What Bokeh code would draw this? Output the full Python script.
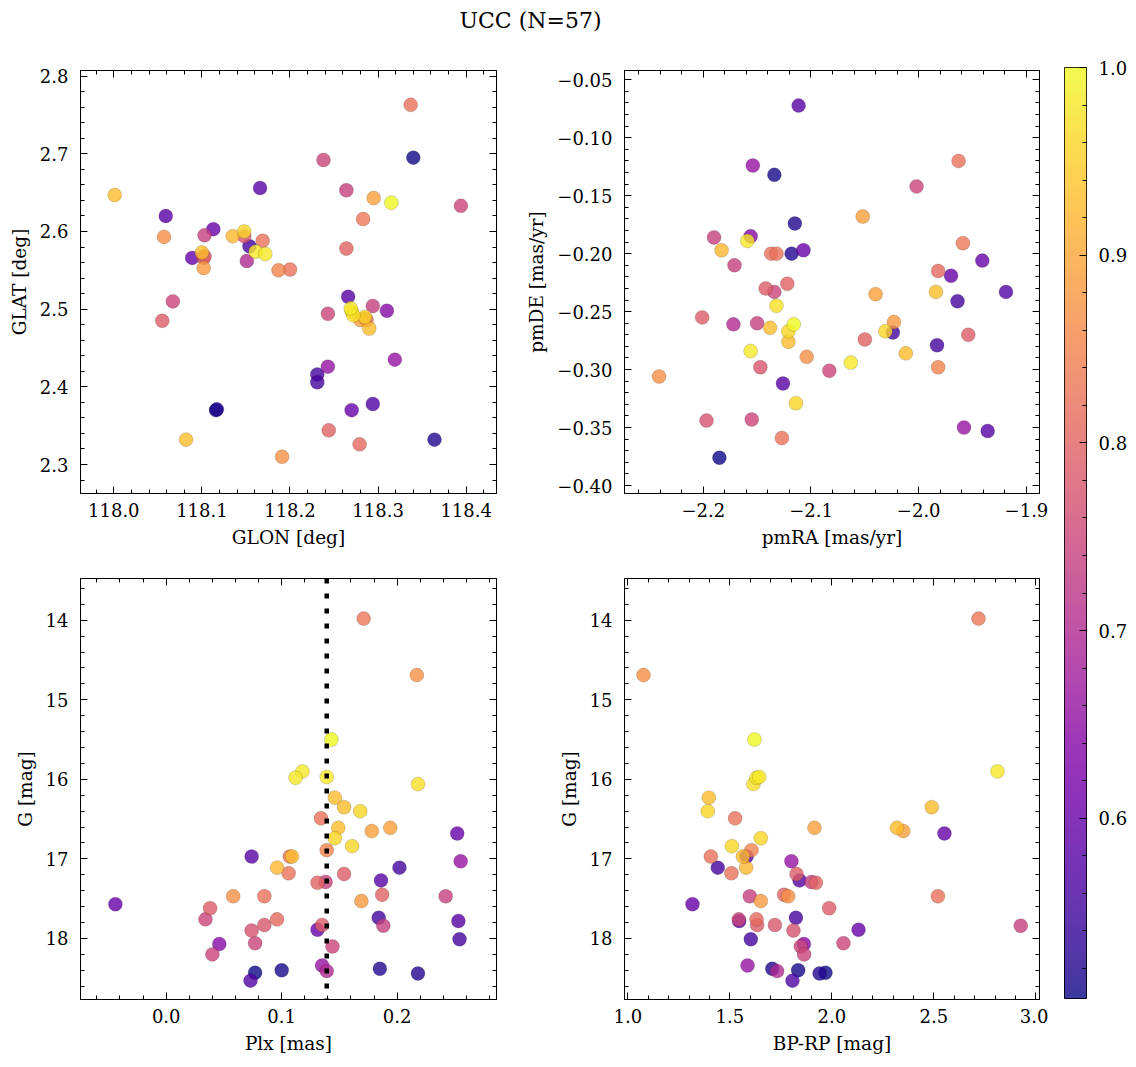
import numpy as np
import pandas as pd
from bokeh.plotting import figure
from bokeh.layouts import column, row
from bokeh.models import (ColumnDataSource, LinearColorMapper, SingleIntervalTicker,
                          LinearAxis, Range1d, Span, CustomJSTickFormatter)
from bokeh.palettes import Plasma256
from bokeh.core.properties import value
from bokeh.embed import file_html
from bokeh.resources import INLINE

TITLE = "UCC (N=57)"

G = [13.98, 14.69, 15.50, 15.90, 15.98, 15.97, 16.06, 16.23, 16.35, 16.40, 16.49, 16.61, 16.61,
     16.65, 16.68, 16.74, 16.84, 16.89, 16.97, 16.97, 16.97, 17.03, 17.11, 17.11, 17.18, 17.19,
     17.27, 17.29, 17.30, 17.45, 17.47, 17.47, 17.47, 17.53, 17.57, 17.62, 17.74, 17.76, 17.76,
     17.78, 17.83, 17.83, 17.84, 17.89, 17.90, 18.01, 18.06, 18.07, 18.10, 18.20, 18.34, 18.41,
     18.43, 18.53, 18.40, 18.38, 18.44]
plx = [0.171, 0.217, 0.143, 0.118, 0.112, 0.139, 0.218, 0.146, 0.154, 0.168, 0.134, 0.149, 0.194,
       0.178, 0.252, 0.146, 0.161, 0.139, 0.074, 0.107, 0.109, 0.255, 0.096, 0.202, 0.106, 0.154,
       0.186, 0.138, 0.131, 0.187, 0.058, 0.085, 0.242, 0.169, -0.044, 0.038, 0.184, 0.034, 0.096,
       0.253, 0.085, 0.135, 0.188, 0.131, 0.074, 0.254, 0.077, 0.046, 0.144, 0.040, 0.135, 0.139,
       0.077, 0.073, 0.100, 0.185, 0.218]
bprp = [2.719, 1.077, 1.621, 2.812, 1.631, 1.644, 1.616, 1.397, 2.490, 1.392, 1.526, 2.319, 1.915,
        2.350, 2.552, 1.652, 1.510, 1.606, 1.582, 1.407, 1.564, 1.802, 1.580, 1.441, 1.508, 1.827,
        1.842, 1.900, 1.922, 1.766, 1.786, 2.520, 1.598, 1.652, 1.317, 1.987, 1.824, 1.544, 1.631,
        1.546, 1.721, 1.634, 2.926, 2.131, 1.812, 1.603, 2.057, 1.863, 1.848, 1.864, 1.587, 1.732,
        1.969, 1.807, 1.835, 1.708, 1.940]
prob = [0.83, 0.87, 1.00, 0.98, 0.98, 0.98, 0.97, 0.93, 0.93, 0.96, 0.82, 0.93, 0.89, 0.89, 0.60,
        0.96, 0.96, 0.85, 0.58, 0.82, 0.93, 0.66, 0.92, 0.56, 0.82, 0.79, 0.58, 0.74, 0.80, 0.80,
        0.87, 0.82, 0.74, 0.88, 0.60, 0.79, 0.56, 0.75, 0.81, 0.58, 0.78, 0.79, 0.74, 0.60, 0.77,
        0.56, 0.75, 0.64, 0.75, 0.75, 0.66, 0.70, 0.504, 0.57, 0.51, 0.52, 0.52]
glon = [118.283, 118.191, 118.315, 118.269, 118.161, 118.172, 118.272, 118.290, 118.001, 118.270,
        118.287, 118.100, 118.295, 118.280, 118.113, 118.148, 118.285, 118.187, 118.166, 118.337,
        118.082, 118.243, 118.135, 118.154, 118.169, 118.102, 118.059, 118.294, 118.264, 118.244,
        118.057, 118.200, 118.264, 118.102, 118.089, 118.055, 118.231, 118.394, 118.279, 118.266,
        118.285, 118.103, 118.103, 118.270, 118.148, 118.231, 118.067, 118.310, 118.243, 118.238,
        118.319, 118.151, 118.340, 118.294, 118.116, 118.364, 118.117]
glat = [2.616, 2.310, 2.637, 2.501, 2.574, 2.571, 2.492, 2.475, 2.647, 2.497, 2.486, 2.573, 2.643,
        2.486, 2.603, 2.600, 2.490, 2.550, 2.656, 2.763, 2.332, 2.426, 2.594, 2.581, 2.588, 2.566,
        2.620, 2.504, 2.578, 2.344, 2.593, 2.551, 2.653, 2.553, 2.566, 2.485, 2.416, 2.633, 2.326,
        2.516, 2.488, 2.568, 2.595, 2.370, 2.594, 2.406, 2.510, 2.498, 2.494, 2.692, 2.435, 2.562,
        2.695, 2.378, 2.370, 2.332, 2.371]
pmra = [-1.959, -2.241, -2.116, -2.156, -2.063, -2.159, -2.132, -2.121, -2.012, -2.121, -1.963,
        -1.984, -2.052, -2.040, -2.107, -2.031, -2.114, -1.982, -2.126, -2.127, -2.138, -2.154,
        -2.183, -1.964, -2.137, -2.142, -2.1115, -2.190, -2.122, -2.050, -2.104, -2.132, -2.150,
        -2.023, -1.941, -2.201, -2.024, -2.155, -1.982, -1.936, -2.147, -1.954, -2.171, -1.970,
        -2.197, -1.983, -2.083, -2.156, -2.002, -2.134, -1.958, -2.172, -2.185, -1.919, -2.134,
        -2.115, -2.118]
pmde = [-0.191, -0.306, -0.261, -0.284, -0.294, -0.189, -0.245, -0.276, -0.286, -0.267, -0.120,
        -0.233, -0.168, -0.235, -0.197, -0.267, -0.329, -0.298, -0.312, -0.359, -0.264, -0.124,
        -0.197, -0.241, -0.200, -0.230, -0.0723, -0.186, -0.226, -0.274, -0.289, -0.200, -0.260,
        -0.259, -0.206, -0.255, -0.268, -0.343, -0.215, -0.353, -0.298, -0.270, -0.210, -0.219,
        -0.344, -0.279, -0.301, -0.185, -0.142, -0.233, -0.350, -0.261, -0.376, -0.233, -0.132,
        -0.174, -0.200]
plx_line = 0.139

df = pd.DataFrame(dict(G=G, plx=plx, bprp=bprp, prob=prob, glon=glon, glat=glat,
                       pmra=pmra, pmde=pmde)).sort_values("prob", kind="stable")
src = ColumnDataSource(df)
mapper = LinearColorMapper(palette=Plasma256, low=min(prob), high=max(prob))

FONT = "DejaVu Serif"
TICK_FS = "18px"
LAB_FS = "18.5px"


def fmt(dec):
    return CustomJSTickFormatter(code=f"""
        const s = Math.abs(tick).toFixed({dec});
        return (tick < -1e-9 ? '\\u2212' : '') + s;""")


def style_axis(ax, ticker, dec, label=None, standoff=10):
    ax.ticker = ticker
    ax.formatter = fmt(dec)
    ax.major_tick_in = 7
    ax.major_tick_out = 0
    ax.minor_tick_in = 4
    ax.minor_tick_out = 0
    ax.axis_line_color = "black"
    ax.axis_line_width = 1
    ax.major_tick_line_color = "black"
    ax.minor_tick_line_color = "black"
    ax.major_label_text_font = FONT
    ax.major_label_text_font_size = TICK_FS
    ax.major_label_text_color = "black"
    ax.major_label_standoff = standoff
    if label is not None:
        ax.axis_label = label
        ax.axis_label_text_font = FONT
        ax.axis_label_text_font_size = LAB_FS
        ax.axis_label_text_font_style = "normal"
        ax.axis_label_text_color = "black"
        ax.axis_label_standoff = 7


def mirror_axis(p, side, ticker):
    ax = LinearAxis(ticker=ticker)
    ax.major_tick_in = 7
    ax.major_tick_out = 0
    ax.minor_tick_in = 4
    ax.minor_tick_out = 0
    ax.major_label_text_color = None
    ax.major_label_text_font_size = "1px"
    ax.major_label_standoff = 0
    ax.axis_line_color = "black"
    p.add_layout(ax, side)


def panel(xr, yr, xcol, ycol, xt, yt, xdec, ydec, xlabel, ylabel,
          bl, br, bt, bb, fw, fh):
    p = figure(frame_width=fw, frame_height=fh, x_range=xr, y_range=yr,
               output_backend="svg", toolbar_location=None,
               min_border_left=bl, min_border_right=br, min_border_top=bt,
               min_border_bottom=bb)
    p.grid.visible = False
    p.outline_line_color = "black"
    p.outline_line_width = 1
    p.background_fill_color = "white"
    p.border_fill_color = "white"
    style_axis(p.xaxis[0], xt(), xdec, xlabel, standoff=9)
    style_axis(p.yaxis[0], yt(), ydec, ylabel, standoff=12)
    mirror_axis(p, "above", xt())
    mirror_axis(p, "right", yt())
    p.scatter(xcol, ycol, source=src, size=14, marker="circle",
              fill_color={"field": "prob", "transform": mapper}, fill_alpha=0.8,
              line_color="black", line_alpha=0.3, line_width=0.5)
    return p


def tk(interval, n=5):
    return lambda: SingleIntervalTicker(interval=interval, num_minor_ticks=n)


p1 = panel(Range1d(117.9622, 118.4344), Range1d(2.2627, 2.8072), "glon", "glat",
           tk(0.1), tk(0.1), 1, 1, "GLON [deg]", "GLAT [deg]",
           80, 27, 30, 60, 416, 423)
p2 = panel(Range1d(-2.2731, -1.8879), Range1d(-0.4069, -0.0420), "pmra", "pmde",
           tk(0.1), tk(0.05), 1, 2, "pmRA [mas/yr]", "pmDE [mas/yr]",
           100, 10, 30, 60, 415, 423)
p3 = panel(Range1d(-0.0742, 0.2860), Range1d(18.767, 13.476), "plx", "G",
           tk(0.1), tk(1.0), 1, 0, "Plx [mas]", "G [mag]",
           80, 27, 25, 68, 416, 421)
p4 = panel(Range1d(0.9838, 3.018), Range1d(18.767, 13.476), "bprp", "G",
           tk(0.5), tk(1.0), 1, 0, "BP-RP [mag]", "G [mag]",
           100, 10, 25, 68, 415, 421)

p3.add_layout(Span(location=plx_line, dimension="height", line_color="black",
                   line_width=4.5, line_dash="5 10"))

# colour bar
lo, hi = min(prob), max(prob)
cb = figure(frame_width=22, frame_height=931, x_range=Range1d(0, 1), y_range=Range1d(lo, hi),
            output_backend="svg", toolbar_location=None, x_axis_location=None,
            y_axis_location="right", min_border_left=15, min_border_right=50,
            min_border_top=27, min_border_bottom=69)
cb.grid.visible = False
cb.outline_line_color = "black"
cb.outline_line_width = 1
grad = np.linspace(lo, hi, 256).reshape(256, 1)
cb.image(image=[grad], x=0, y=lo, dw=1, dh=hi - lo, color_mapper=mapper, global_alpha=0.8)
style_axis(cb.yaxis[0], SingleIntervalTicker(interval=0.1, num_minor_ticks=5), 1, None, standoff=12)
cb.yaxis[0].axis_line_color = None

# title strip
tp = figure(frame_width=1136, frame_height=40, x_range=Range1d(0, 1136), y_range=Range1d(0, 40),
            output_backend="svg", toolbar_location=None, min_border=0,
            x_axis_location=None, y_axis_location=None)
tp.grid.visible = False
tp.outline_line_color = None
tp.text(x=[530], y=[20], text=[TITLE], text_font=value(FONT), text_font_size="22px",
        text_align="center", text_baseline="middle", text_color="black")

layout = column(tp, row(column(p1, p3), column(p2, p4), cb))

with open("out.html", "w") as f:
    f.write(file_html(layout, INLINE))
